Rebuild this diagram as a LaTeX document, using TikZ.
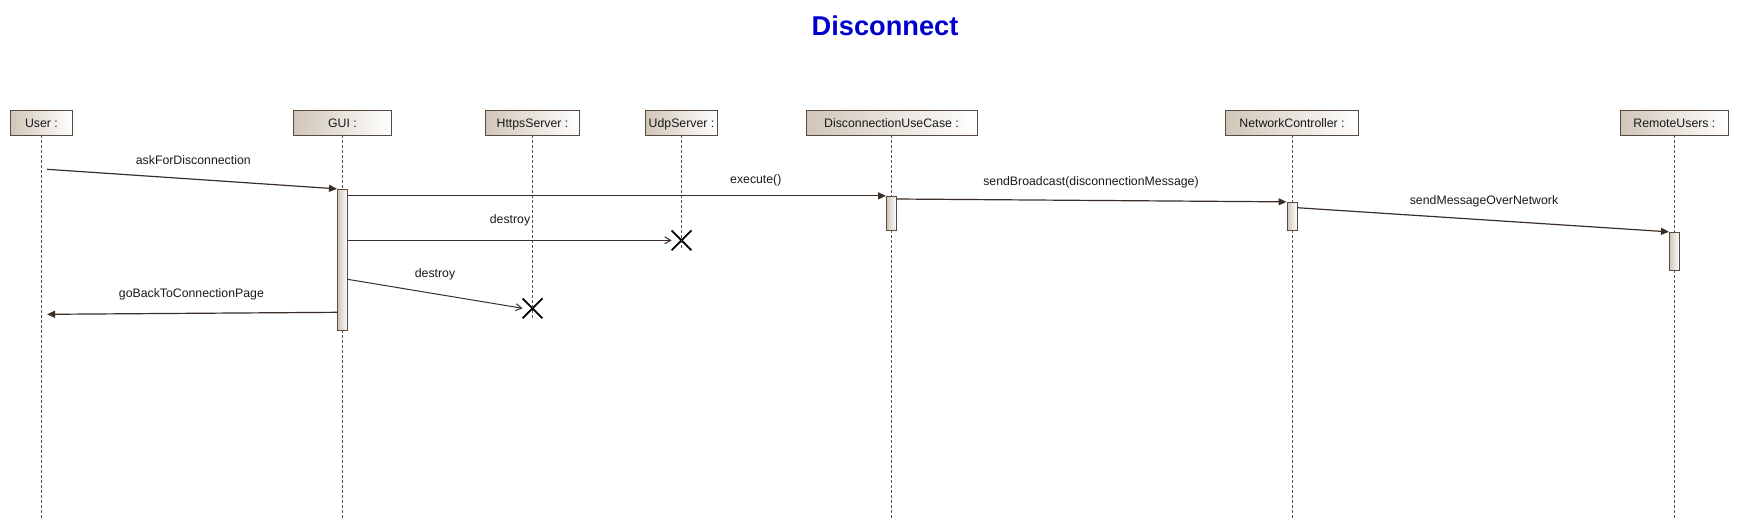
\documentclass[tikz,border=0pt]{standalone}
\usepackage{fontspec}
\setmainfont{Liberation Sans}
\usetikzlibrary{arrows.meta,shapes.misc}
\definecolor{boxc}{RGB}{88,74,64}
\definecolor{tanc}{RGB}{208,198,184}
\definecolor{linec}{RGB}{58,46,38}
\definecolor{lifec}{RGB}{95,80,70}
\definecolor{txtc}{RGB}{25,25,25}
\definecolor{titlec}{RGB}{0,0,205}
\newcommand\lblfont{\fontsize{12.3pt}{14pt}\selectfont}
\tikzset{
  objbox/.style={draw=boxc, line width=0.9pt, left color=tanc, right color=white,
    minimum height=25pt, inner sep=0pt, font=\lblfont, text=txtc,
    text height=9pt, text depth=0pt},
  actbox/.style={draw=boxc, line width=0.9pt, left color=tanc, right color=white,
    minimum width=10pt, inner sep=0pt},
  lifeline/.style={draw=lifec, line width=0.8pt, dash pattern=on 3pt off 2pt},
  syncmsg/.style={draw=linec, line width=1.2pt, -{Triangle[length=8pt,width=7pt]}},
  asyncmsg/.style={draw=linec, line width=1pt, -{Straight Barb[length=6pt,width=7pt]}},
  msglabel/.style={anchor=base, font=\lblfont, text=txtc, inner sep=0pt},
  destroymark/.style={cross out, draw=black, line width=1.8pt, minimum size=18pt, inner sep=0pt},
}
\begin{document}
\begin{tikzpicture}[x=1pt,y=-1pt]
\useasboundingbox (0,0) rectangle (1739,520);

% title
\node[anchor=base, font=\fontsize{27.2pt}{30pt}\selectfont\bfseries, text=titlec, inner sep=0pt] (title) at (885,35) {Disconnect};

% object boxes
\node[objbox, minimum width=62.4pt]  (user)  at (41.5,122.5)   {User :};
\node[objbox, minimum width=98pt]    (gui)   at (342.5,122.5)  {GUI :};
\node[objbox, minimum width=94.5pt]  (https) at (532.5,122.5)  {HttpsServer :};
\node[objbox, minimum width=72pt]    (udp)   at (681.5,122.5)  {UdpServer :};
\node[objbox, minimum width=171pt]   (duc)   at (891.5,122.5)  {DisconnectionUseCase :};
\node[objbox, minimum width=133pt]   (nc)    at (1292,122.5)   {NetworkController :};
\node[objbox, minimum width=108pt]   (ru)    at (1674.4,122.5) {RemoteUsers :};

% destroy marks
\node[destroymark] (xu) at (681.5,240.3) {};
\node[destroymark] (xh) at (532.5,308.3) {};

% lifeline ends
\coordinate (userB) at (41.5,520);
\coordinate (guiB)  at (342.5,520);
\coordinate (ducB)  at (891.5,520);
\coordinate (ncB)   at (1292,520);
\coordinate (ruB)   at (1674.4,520);

% lifelines
\draw[lifeline] (user.south) -- (userB);
\draw[lifeline] (gui.south) -- (guiB);
\draw[lifeline] (https.south) -- (xh.south);
\draw[lifeline] (udp.south) -- (xu.south);
\draw[lifeline] (duc.south) -- (ducB);
\draw[lifeline] (nc.south) -- (ncB);
\draw[lifeline] (ru.south) -- (ruB);

% activations
\node[actbox, minimum height=140.7pt] (guiA) at (342.5,259.65) {};
\node[actbox, minimum height=34pt]    (ducA) at (891.5,213.3) {};
\node[actbox, minimum height=28pt]    (ncA)  at (1292,216.3) {};
\node[actbox, minimum height=38pt]    (ruA)  at (1674.4,251.3) {};

% message end points
\coordinate (m1s) at (47.1,169.3);
\coordinate (m4s) at (347.5,279.3);
\coordinate (m7e) at (47.1,314.3);
\coordinate (m7s) at (337.5,312.3);
\coordinate (m5s) at (896.5,199);
\coordinate (m6s) at (1297,207.7);

% messages
\draw[syncmsg] (m1s) -- (guiA.north west);
\draw[syncmsg] (guiA.east |- ducA.north west) -- (ducA.north west);
\draw[asyncmsg] (guiA.east |- xu.west) -- (xu.west);
\draw[asyncmsg] (m4s) -- (xh.west);
\draw[syncmsg] (m5s) -- (ncA.north west);
\draw[syncmsg] (m6s) -- (ruA.north west);
\draw[syncmsg] (m7s) -- (m7e);

% labels
\node[msglabel] (l1) at (193.3,164)  {askForDisconnection};
\node[msglabel] (l2) at (755.8,183)  {execute()};
\node[msglabel] (l3) at (510,223.5)  {destroy};
\node[msglabel] (l4) at (435,277)    {destroy};
\node[msglabel] (l5) at (1091,185)   {sendBroadcast(disconnectionMessage)};
\node[msglabel] (l6) at (1484,204)   {sendMessageOverNetwork};
\node[msglabel] (l7) at (191.4,297.5) {goBackToConnectionPage};
\end{tikzpicture}
\end{document}
